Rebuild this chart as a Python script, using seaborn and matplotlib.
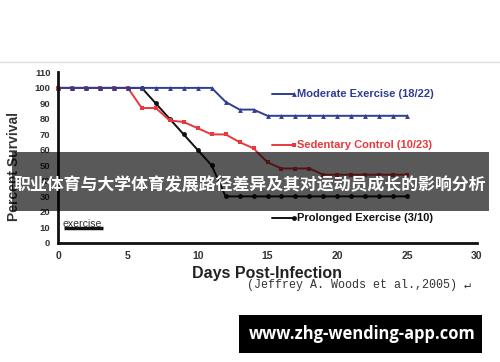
import matplotlib
matplotlib.use('Agg')
import matplotlib.pyplot as plt
import seaborn as sns
import pandas as pd
import numpy as np

# ==== Data ====
moderate_days = list(range(0, 26))
moderate_surv = [100] * 12 + [91, 86, 86] + [82] * 11

sedentary_days = list(range(0, 26))
sedentary_surv = [100] * 6 + [87, 87, 79, 78, 74, 70, 70, 65, 61, 52, 48, 48, 48] + [44] * 7

prolonged_days = list(range(0, 26))
prolonged_surv = [100] * 7 + [90, 80, 70, 60, 50] + [30] * 14

group_names = ["Moderate Exercise (18/22)", "Sedentary Control (10/23)", "Prolonged Exercise (3/10)"]
group_colors = ["#2f3d92", "#e8383d", "#111111"]
group_markers = ["^", "s", "o"]

x_ticks = [0, 5, 10, 15, 20, 25, 30]
y_ticks = list(range(0, 111, 10))

df = pd.concat([
    pd.DataFrame({"day": moderate_days, "surv": moderate_surv, "group": group_names[0]}),
    pd.DataFrame({"day": sedentary_days, "surv": sedentary_surv, "group": group_names[1]}),
    pd.DataFrame({"day": prolonged_days, "surv": prolonged_surv, "group": group_names[2]}),
])

sns.set_style("white")
plt.rcParams["font.family"] = ["Liberation Sans", "DejaVu Sans"]

fig = plt.figure(figsize=(5, 3.62), dpi=100)
fig.patch.set_facecolor("white")

# thin separator line at the top of the picture
fig.add_artist(plt.Line2D([0, 1], [1 - 62 / 362, 1 - 62 / 362], color="#dedede", lw=1))

ax = fig.add_axes([0.116, 0.329, 0.838, 0.471])
ax.set_facecolor("white")

pal = dict(zip(group_names, group_colors))
mk = dict(zip(group_names, group_markers))
sns.lineplot(data=df, x="day", y="surv", hue="group", style="group",
             palette=pal, markers=mk, dashes=False, legend=False,
             linewidth=1.4, markersize=3.5, markeredgewidth=0, ax=ax,
             hue_order=group_names[::-1], style_order=group_names[::-1])
for l in ax.lines:
    l.set_clip_on(False)

ax.set_xlim(0, 30)
ax.set_ylim(0, 110)
ax.set_xticks(x_ticks)
ax.set_yticks(y_ticks)
ax.tick_params(axis="both", direction="out", length=4, width=1.5, color="#222222",
               labelsize=6.8, labelcolor="#333333", pad=1.5)
for t in ax.get_xticklabels() + ax.get_yticklabels():
    t.set_fontweight("bold")
ax.tick_params(axis="x", labelsize=7.5)
for s in ["top", "right"]:
    ax.spines[s].set_visible(False)
for s in ["left", "bottom"]:
    ax.spines[s].set_linewidth(2)
    ax.spines[s].set_color("#111111")

ax.set_xlabel("Days Post-Infection", fontsize=11.5, fontweight="bold", color="#222222", labelpad=4)
ax.set_ylabel("Percent Survival", fontsize=10, fontweight="bold", color="#333333", labelpad=8)
ax.yaxis.set_label_coords(-0.088, 0.45)

# in-plot legend entries
legend_y = [96, 63, 16]
for name, col, m, yy in zip(group_names, group_colors, group_markers, legend_y):
    ax.plot([15.3, 16.9], [yy, yy], color=col, lw=1.4, marker=m, markevery=[1],
            markersize=3.5, markeredgewidth=0)
    ax.text(17.1, yy, name, color=col, fontsize=8, fontweight="bold", va="center", ha="left")

# exercise bar
ax.text(0.3, 12.5, "exercise", fontsize=7.6, color="#333333", va="center", ha="left")
ax.plot([0.4, 3.2], [9.5, 9.5], color="#111111", lw=2.5, solid_capstyle="butt")

# citation
fig.text(247 / 500, 1 - 285 / 362, "(Jeffrey A. Woods et al.,2005) \u21b5",
         fontsize=8.4, family=["Liberation Mono", "DejaVu Sans Mono"], color="#333333",
         va="center", ha="left")

# dark title banner
fig.add_artist(plt.Rectangle((12 / 500, 1 - 211 / 362), 477 / 500, 59 / 362,
                             transform=fig.transFigure, color="black", alpha=0.65, lw=0))
fig.text(0.5, 1 - 185 / 362, "职业体育与大学体育发展路径差异及其对运动员成长的影响分析",
         fontsize=12.2, fontweight="bold", color="white", ha="center", va="center",
         family=["Noto Sans CJK SC", "DejaVu Sans"])

# url box
fig.add_artist(plt.Rectangle((239 / 500, 1 - 353 / 362), 243 / 500, 38 / 362,
                             transform=fig.transFigure, color="black", lw=0))
fig.text(362 / 500, 1 - 334 / 362, "www.zhg-wending-app.com", fontsize=11.9,
         fontweight="bold", color="white", ha="center", va="center",
         family=["Open Sans", "DejaVu Sans"])

plt.savefig("out.png", dpi=100)
